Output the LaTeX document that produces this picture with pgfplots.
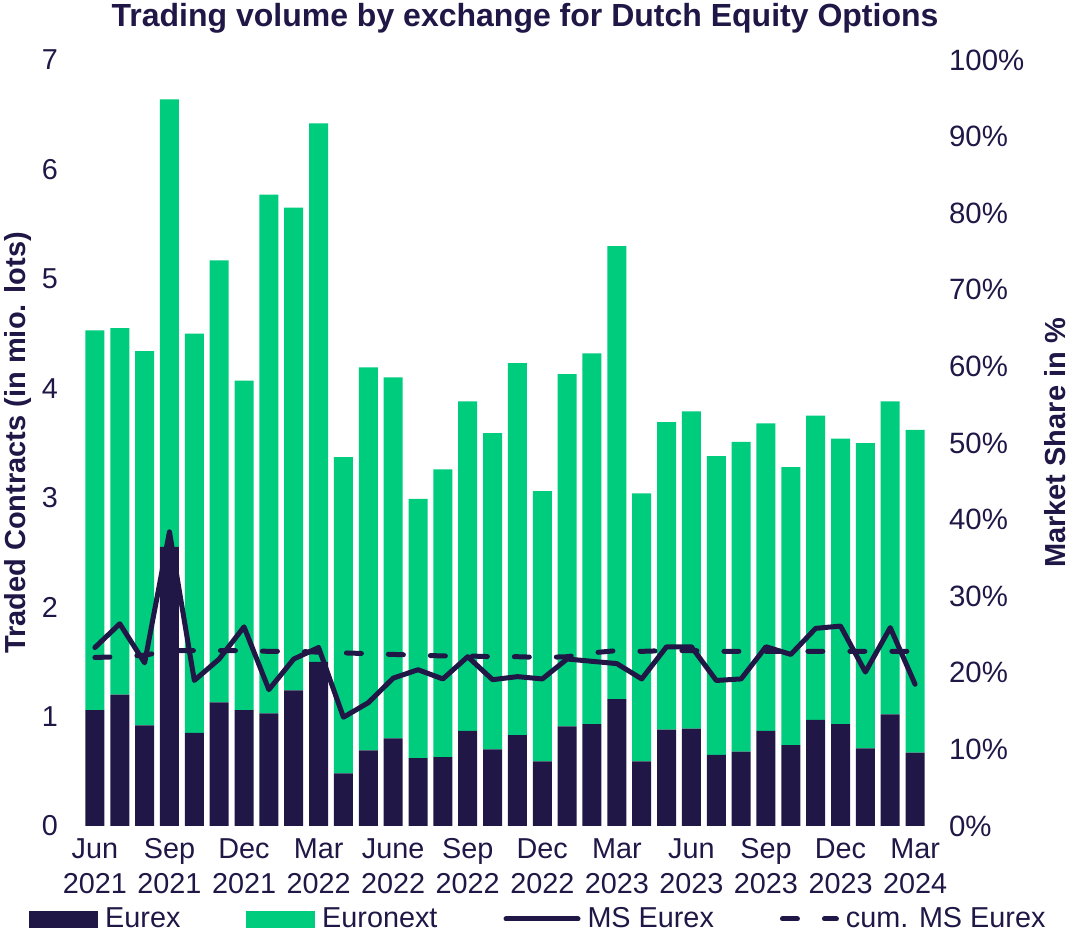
\documentclass[border=0pt]{standalone}
\usepackage{fontspec}
\setmainfont{Liberation Sans}
\usepackage{pgfplots}
\pgfplotsset{compat=1.18}
\definecolor{navy}{HTML}{201747}
\definecolor{ngreen}{HTML}{00CC7E}
\begin{document}
\begin{tikzpicture}
\useasboundingbox (-40pt,-55.5pt) rectangle (498pt,413pt);
\begin{axis}[
 at={(0,0)}, anchor=south west,
 scale only axis, width=425pt, height=383pt,
 xmin=-0.6, xmax=33.6, ymin=0, ymax=7,
 ybar stacked, bar width=9.5pt,
 axis line style={draw=none}, major tick length=0pt,
 /pgf/number format/assume math mode=true,
 xtick={0,3,...,33},
 xticklabels={{\strut Jun\\\strut 2021},{\strut Sep\\\strut 2021},{\strut Dec\\\strut 2021},{\strut Mar\\\strut 2022},{\strut June\\\strut 2022},{\strut Sep\\\strut 2022},{\strut Dec\\\strut 2022},{\strut Mar\\\strut 2023},{\strut Jun\\\strut 2023},{\strut Sep\\\strut 2023},{\strut Dec\\\strut 2023},{\strut Mar\\\strut 2024}},
 xticklabel style={align=center, font=\fontsize{14.4}{17.5}\selectfont, text=navy, yshift=-0.5pt},
 ytick={0,1,...,7},
 yticklabel style={font=\fontsize{14.4}{17}\selectfont, text=navy, xshift=-7.5pt},
 ylabel={Traded Contracts (in mio. lots)},
 every axis y label/.style={at={(axis description cs:-0.0729,0.5)}, anchor=center, rotate=90, font=\bfseries\fontsize{14.5}{17}\selectfont, text=navy},
 title={Trading volume by exchange for Dutch Equity Options},
 every axis title/.style={at={(axis description cs:0.5,1)}, anchor=center, yshift=21pt, xshift=10pt, font=\bfseries\fontsize{16}{19}\selectfont, text=navy},
]
\addplot[fill=navy, draw=none] coordinates {
(0,1.06) (1,1.20) (2,0.92) (3,2.55) (4,0.85) (5,1.13) (6,1.06) (7,1.03) (8,1.24) (9,1.50)
(10,0.48) (11,0.69) (12,0.80) (13,0.62) (14,0.63) (15,0.87) (16,0.70) (17,0.83) (18,0.59) (19,0.91)
(20,0.93) (21,1.16) (22,0.59) (23,0.88) (24,0.89) (25,0.65) (26,0.68) (27,0.87) (28,0.74) (29,0.97)
(30,0.93) (31,0.71) (32,1.02) (33,0.67)};
\addplot[fill=ngreen, draw=none] coordinates {
(0,3.47) (1,3.35) (2,3.42) (3,4.09) (4,3.65) (5,4.04) (6,3.01) (7,4.74) (8,4.41) (9,4.92)
(10,2.89) (11,3.50) (12,3.30) (13,2.37) (14,2.63) (15,3.01) (16,2.89) (17,3.40) (18,2.47) (19,3.22)
(20,3.39) (21,4.14) (22,2.45) (23,2.81) (24,2.90) (25,2.73) (26,2.83) (27,2.81) (28,2.54) (29,2.78)
(30,2.61) (31,2.79) (32,2.86) (33,2.95)};
\end{axis}
\begin{axis}[
 at={(0,0)}, anchor=south west,
 scale only axis, width=425pt, height=383pt,
 xmin=-0.6, xmax=33.6, ymin=0, ymax=100,
 axis x line=none, axis y line*=right,
 axis line style={draw=none}, major tick length=0pt,
 /pgf/number format/assume math mode=true,
 ytick={0,10,...,100},
 yticklabel={\pgfmathprintnumber{\tick}\%},
 yticklabel style={font=\fontsize{14.7}{17}\selectfont, text=navy, xshift=6pt},
 ylabel={Market Share in \%},
 every axis y label/.style={at={(axis description cs:1.147,0.5)}, anchor=center, rotate=90, font=\bfseries\fontsize{14.5}{17}\selectfont, text=navy},
 legend style={at={(-0.06,-0.1214)}, anchor=west, legend columns=4, draw=none, fill=none, inner sep=0pt,
   font=\fontsize{14.4}{17}\selectfont, text=navy,
   /tikz/every odd column/.append style={column sep=1.5pt},
   /tikz/every even column/.append style={column sep=31pt}},
 legend cell align=left,
]
\addlegendimage{legend image code/.code={\fill[navy] (0pt,-4pt) rectangle (34pt,4pt);}}
\addlegendentry{Eurex}
\addlegendimage{legend image code/.code={\fill[ngreen] (0pt,-4pt) rectangle (34pt,4pt);}}
\addlegendentry{Euronext}
\addplot[navy, line width=2.5pt, line join=round, line cap=round,
 legend image code/.code={\draw[navy, line width=2.5pt] (0pt,0pt) -- (36pt,0pt);}] coordinates {
(0,23.3) (1,26.4) (2,21.3) (3,38.4) (4,19.0) (5,21.8) (6,26.0) (7,17.8) (8,21.8) (9,23.3)
(10,14.2) (11,16.1) (12,19.3) (13,20.4) (14,19.2) (15,22.1) (16,19.1) (17,19.5) (18,19.2) (19,21.8)
(20,21.5) (21,21.2) (22,19.2) (23,23.4) (24,23.4) (25,19.0) (26,19.2) (27,23.4) (28,22.4) (29,25.8)
(30,26.1) (31,20.1) (32,25.9) (33,18.5)};
\addlegendentry{MS Eurex}
\addplot[navy, line width=2.5pt, line cap=round, dash pattern=on 7.5pt off 13.5pt,
 legend image code/.code={\draw[navy, line width=2.5pt, line cap=round, dash pattern=on 7.5pt off 13.5pt] (1.25pt,0pt) -- (28.25pt,0pt);}] coordinates {
(0,22.0) (1,22.1) (2,22.3) (3,22.9) (4,22.9) (5,22.9) (6,22.9) (7,22.8) (8,22.8) (9,22.7)
(10,22.6) (11,22.5) (12,22.4) (13,22.3) (14,22.2) (15,22.2) (16,22.1) (17,22.1) (18,22.0) (19,22.1)
(20,22.6) (21,22.9) (22,22.8) (23,22.9) (24,22.9) (25,22.8) (26,22.8) (27,22.8) (28,22.8) (29,22.8)
(30,22.8) (31,22.8) (32,22.8) (33,22.8)};
\addlegendentry{cum. MS Eurex}
\end{axis}
\end{tikzpicture}
\end{document}
